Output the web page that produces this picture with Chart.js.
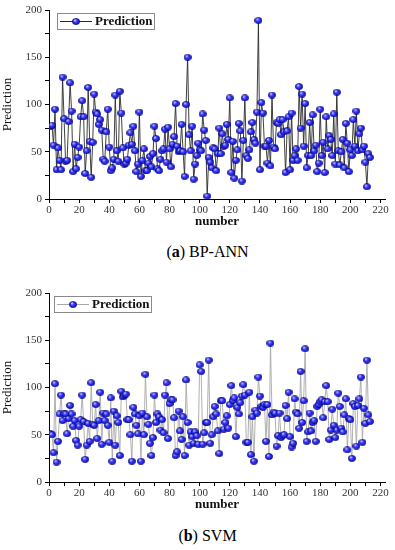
<!DOCTYPE html>
<html>
<head>
<meta charset="utf-8">
<script src="https://cdn.jsdelivr.net/npm/chart.js@4.4.0/dist/chart.umd.min.js"></script>
<style>
  body { margin: 0; background: #fff; width: 395px; height: 550px; position: relative; overflow: hidden; font-family: "Liberation Serif", serif; }
  .box { position: absolute; left: 0; width: 395px; height: 232px; }
  .cap { position: absolute; left: 10px; width: 395px; text-align: center; font-size: 16px; color: #000; }
</style>
</head>
<body>
<div class="box" style="top:0"><canvas id="c1" width="395" height="232"></canvas></div>
<div class="cap" style="top:243px">(<b>a</b>) BP-ANN</div>
<div class="box" style="top:283px"><canvas id="c2" width="395" height="232"></canvas></div>
<div class="cap" style="top:527px">(<b>b</b>) SVM</div>
<script>
'use strict';

// values, sample number starts at 1
var bpAnn = [77,78,57,95,31,54,41,31,129,85,40,41,82,123,93,29,58,32,44,55,
  87,104,87,27,51,118,61,23,60,111,92,90,79,84,73,42,40,71,95,55,
  30,33,42,110,51,40,114,91,54,37,38,42,57,70,58,77,51,29,37,92,
  24,41,53,30,30,38,45,34,48,77,64,32,30,42,51,53,74,39,76,53,
  34,58,66,101,56,50,51,79,50,24,100,150,68,51,77,21,37,46,59,52,
  51,90,73,62,3,44,39,33,54,53,30,48,75,48,69,56,57,79,63,107,
  28,61,22,41,52,80,72,19,62,107,46,43,52,71,81,63,59,92,189,31,
  102,91,56,56,38,62,35,110,55,53,81,80,84,68,84,71,28,72,87,31,
  91,41,46,53,41,119,75,111,56,101,33,46,81,46,89,51,57,29,38,95,
  46,60,28,87,53,67,63,46,90,37,113,51,36,50,63,33,80,59,29,52,
  46,84,56,93,51,69,75,52,56,39,13,48,44];

var svm = [51,50,31,104,21,43,72,92,65,72,72,51,67,81,72,59,65,44,39,59,
  66,92,64,24,39,62,43,105,61,60,82,46,65,95,40,73,65,72,60,42,
  89,22,75,39,70,63,28,96,90,92,93,66,66,50,22,79,72,60,51,70,
  22,73,50,114,69,61,41,28,47,92,63,72,69,55,66,52,92,105,46,83,
  87,87,68,28,32,75,54,45,69,28,108,63,39,53,48,41,53,49,40,124,
  117,40,52,63,63,129,41,50,69,80,72,54,30,86,86,56,63,70,57,82,
  102,86,89,48,79,72,84,91,103,92,42,42,95,29,69,22,76,73,111,91,
  80,79,82,43,82,27,147,71,74,73,38,49,73,47,49,50,81,67,95,48,
  37,41,88,74,72,57,117,63,86,141,43,53,73,54,63,65,43,80,82,85,
  87,68,85,102,85,45,55,77,60,47,55,94,80,57,53,71,88,34,67,66,
  25,83,80,38,81,88,111,42,78,62,129,71,64];

var xTicks = [0,10,20,30,40,50,60,70,80,90,100,110,120,130,140,150,160,170,180,190,200,210,220];
var yTicks = [0,25,50,75,100,125,150,175,200];

var serif = '"Liberation Serif", "Times New Roman", serif';

// blue shaded ball used as the marker
var makeBall = function () {
  var c = document.createElement('canvas');
  c.width = 8; c.height = 7;
  var g = c.getContext('2d');
  var grd = g.createRadialGradient(2.8, 2.2, 0.2, 4, 3.5, 4.5);
  grd.addColorStop(0, '#d4d4ff');
  grd.addColorStop(0.35, '#3c3cff');
  grd.addColorStop(1, '#0000a8');
  g.fillStyle = grd;
  g.beginPath();
  g.ellipse(4, 3.5, 3.7, 3.1, 0, 0, Math.PI * 2);
  g.fill();
  g.strokeStyle = '#000070';
  g.lineWidth = 0.6;
  g.stroke();
  return c;
};
var ball = makeBall();

// framed legend sitting inside the plot, top left
var legendBox = {
  id: 'legendBox',
  afterDatasetsDraw: function (chart, args, opts) {
    var ctx = chart.ctx, a = chart.chartArea;
    var x = Math.round(a.left + opts.dx), y = Math.round(a.top + opts.dy);
    var ds = chart.data.datasets[0];
    ctx.save();
    ctx.fillStyle = '#fff';
    ctx.fillRect(x, y, 97, 16);
    ctx.strokeStyle = '#8a8a8a';
    ctx.lineWidth = 1;
    ctx.strokeRect(x + 0.5, y + 0.5, 97, 16);
    ctx.strokeStyle = ds.borderColor;
    ctx.beginPath();
    ctx.moveTo(x + 3, y + 8.5);
    ctx.lineTo(x + 35, y + 8.5);
    ctx.stroke();
    ctx.drawImage(ball, x + 19 - 4, y + 8.5 - 3.5);
    ctx.fillStyle = '#111';
    ctx.font = 'bold 13px ' + serif;
    ctx.textBaseline = 'middle';
    ctx.fillText(ds.label, x + 38, y + 9);
    ctx.restore();
  }
};

var makeChart = function (id, values, lineColor, legendDx) {
  var points = values.map(function (v, i) { return {x: i + 1, y: v}; });
  return new Chart(document.getElementById(id), {
    type: 'line',
    data: {
      datasets: [{
        label: 'Prediction',
        data: points,
        borderColor: lineColor,
        borderWidth: 0.9,
        pointStyle: ball,
        pointRadius: 3,
        tension: 0
      }]
    },
    plugins: [legendBox],
    options: {
      responsive: false,
      animation: false,
      events: [],
      layout: {padding: {top: 10, right: 10, left: 0, bottom: 0}},
      plugins: {
        legend: {display: false},
        tooltip: {enabled: false},
        legendBox: {dx: legendDx, dy: 3}
      },
      scales: {
        x: {
          type: 'linear', min: 0, max: 223,
          afterBuildTicks: function (s) { s.ticks = xTicks.map(function (v) { return {value: v}; }); },
          afterFit: function (s) { s.height = 33; },
          border: {color: '#000', width: 1},
          grid: {drawOnChartArea: false, drawTicks: true, tickLength: 4, tickColor: '#000'},
          ticks: {
            autoSkip: false, maxRotation: 0, padding: 1, color: '#333',
            font: {family: serif, size: 11},
            callback: function (v) { return v % 20 === 0 ? v : ''; }
          },
          title: {display: true, text: 'number', color: '#111',
                  font: {family: serif, size: 13, weight: 'bold'}, padding: {top: 0, bottom: 3}}
        },
        y: {
          min: 0, max: 200,
          afterBuildTicks: function (s) { s.ticks = yTicks.map(function (v) { return {value: v}; }); },
          afterFit: function (s) { s.width = 49; },
          border: {color: '#000', width: 1},
          grid: {drawOnChartArea: false, drawTicks: true, tickLength: 4, tickColor: '#000'},
          ticks: {
            autoSkip: false, padding: 3, color: '#333',
            font: {family: serif, size: 11},
            callback: function (v) { return v % 50 === 0 ? v : ''; }
          },
          title: {display: true, text: 'Prediction', color: '#111',
                  font: {family: serif, size: 13}, padding: {top: 0, bottom: 2}}
        }
      }
    }
  });
};

makeChart('c1', bpAnn, '#2a2a2a', 8);
makeChart('c2', svm, '#a8a8a8', 5);
</script>
</body>
</html>
